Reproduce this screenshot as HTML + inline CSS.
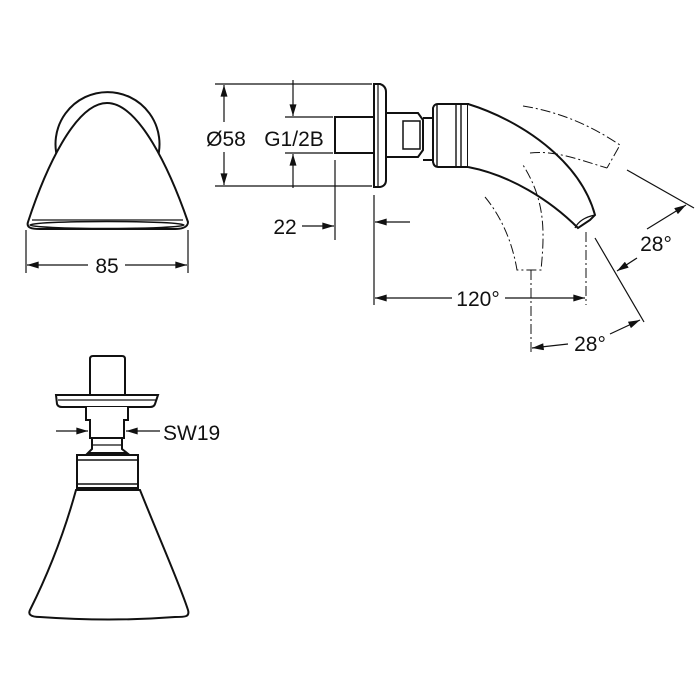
<!DOCTYPE html>
<html><head><meta charset="utf-8"><style>
html,body{margin:0;padding:0;background:#fff;}
svg{display:block}
text{font-family:"Liberation Sans",sans-serif;font-size:21px;fill:#111}
</style></head><body>
<svg width="700" height="700" viewBox="0 0 700 700" xmlns="http://www.w3.org/2000/svg">
<defs>
<marker id="a" viewBox="0 0 10 6" refX="10" refY="3" markerWidth="15" markerHeight="7" markerUnits="userSpaceOnUse" orient="auto"><path d="M0,0L10,3L0,6z" fill="#111"/></marker>
</defs>
<g fill="none" stroke="#111" stroke-width="2">
<!-- front view -->
<path d="M58,160 A52,52 0 1 1 157,160"/>
<path d="M66,150 A43,43 0 0 1 150,150" stroke-width="1.5"/>
<path d="M28,222 C45,170 75,103 107,103 C139,103 170,170 188,222 C188,228 180,229 175,229 L40,229 C32,229 26,228 28,222 Z" fill="#fff"/>
<path d="M32,220 L183,220" stroke-width="1.2"/>
<ellipse cx="107" cy="225" rx="77" ry="3.5" stroke-width="1.5"/>
<!-- 85 dim -->
<path d="M26,230V273M188,230V273" stroke-width="1.2"/>
<path d="M88,265H27" stroke-width="1.2" marker-end="url(#a)"/>
<path d="M125,265H187" stroke-width="1.2" marker-end="url(#a)"/>
<!-- side view dims -->
<path d="M215,84H372M215,186H372M285,117H333M285,153H333" stroke-width="1.2"/>
<path d="M224,122V85" stroke-width="1.2" marker-end="url(#a)"/>
<path d="M224,152V185" stroke-width="1.2" marker-end="url(#a)"/>
<path d="M293,80V116" stroke-width="1.2" marker-end="url(#a)"/>
<path d="M293,188V154" stroke-width="1.2" marker-end="url(#a)"/>
<!-- nipple -->
<rect x="335" y="117" width="39" height="36" fill="#fff"/>
<!-- flange -->
<path d="M374,84H380Q386,86 386,92V180Q386,186 380,187H374Z" fill="#fff"/>
<path d="M378,85V186" stroke-width="1.2"/>
<!-- nut -->
<path d="M386,113H418L423,120V150L418,157H386Z" fill="#fff"/>
<rect x="403" y="121" width="17" height="28" stroke-width="1.5"/>
<path d="M423,118H433V160H423" />
<!-- ball -->
<path d="M433,108Q434,104 438,104H468V167H438Q434,167 433,162Z" fill="#fff"/>
<path d="M437,104V167M456,104V167M461,104V167" stroke-width="1.4"/>
<!-- arm -->
<path d="M468,104C520,120 580,160 595,215L590,220L578,228C550,200 510,175 468,167" fill="#fff"/>
<path d="M575,228Q580,218 595,215" stroke-width="1.3"/>
<!-- ghosts -->
<g stroke-width="1" stroke-dasharray="10,3,2,3">
<path d="M523,106C560,112 590,125 620,145L607,168"/>
<path d="M530,153C555,150 580,160 607,168"/>
<path d="M485,197C500,215 512,240 517,270H541C545,230 545,200 523,165"/>
<path d="M531,270V355"/>
<path d="M586,232V305"/>
</g>
<!-- 22 -->
<path d="M335,160V240M374,195V305" stroke-width="1.2"/>
<path d="M302,226H334" stroke-width="1.2" marker-end="url(#a)"/>
<path d="M410,222H375" stroke-width="1.2" marker-end="url(#a)"/>
<!-- 120 -->
<path d="M452,298H375" stroke-width="1.2" marker-end="url(#a)"/>
<path d="M505,298H585" stroke-width="1.2" marker-end="url(#a)"/>
<!-- 28 lines -->
<path d="M595,238L644,322M627,170L694,208" stroke-width="1.2"/>
<path d="M647,229L686,205" stroke-width="1.2" marker-end="url(#a)"/>
<path d="M637,258L617,271" stroke-width="1.2" marker-end="url(#a)"/>
<path d="M568,344L532,348" stroke-width="1.2" marker-end="url(#a)"/>
<path d="M610,334L640,320" stroke-width="1.2" marker-end="url(#a)"/>
<!-- bottom view -->
<path d="M90,395V359Q90,356 93,356H122Q125,356 125,359V395" fill="#fff"/>
<path d="M56,395H158L155,404Q154,407 150,407H62Q58,407 57,404Z" fill="#fff"/>
<path d="M58,400H156" stroke-width="1.2"/>
<path d="M86,407V420H90V438H124V420H128V407" fill="#fff"/>
<path d="M92,438V449L88,453H127L122,449V438"/>
<path d="M92,445H122" stroke-width="1.2"/>
<rect x="77" y="455" width="61" height="33" fill="#fff"/>
<path d="M77,460H138M77,484H138" stroke-width="1.4"/>
<path d="M76,490L140,490C160,540 180,585 188,610C190,617 185,617 175,617Q110,622 40,617C30,617 28,614 30,610C50,570 65,530 76,490Z" fill="#fff"/>
<path d="M56,431H88" stroke-width="1.2" marker-end="url(#a)"/>
<path d="M160,431H126" stroke-width="1.2" marker-end="url(#a)"/>
</g>
<text x="107" y="273" text-anchor="middle">85</text>
<text x="226" y="146" text-anchor="middle">Ø58</text>
<text x="294" y="146" text-anchor="middle">G1/2B</text>
<text x="285" y="234" text-anchor="middle">22</text>
<text x="478" y="306" text-anchor="middle">120°</text>
<text x="656" y="251" text-anchor="middle">28°</text>
<text x="590" y="351" text-anchor="middle">28°</text>
<text x="163" y="440">SW19</text>
</svg>
</body></html>
